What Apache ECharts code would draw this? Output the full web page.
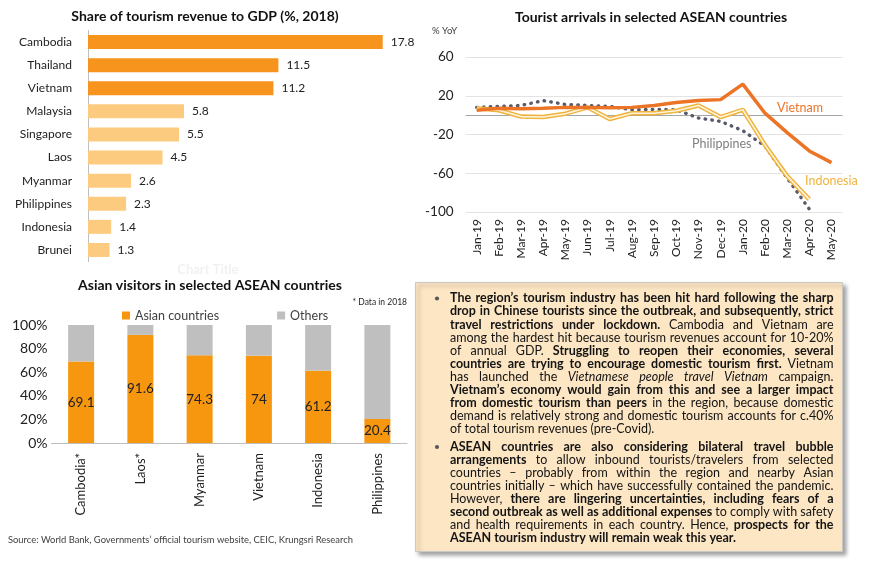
<!DOCTYPE html>
<html><head><meta charset="utf-8">
<script src="https://cdn.jsdelivr.net/npm/echarts/dist/echarts.min.js"></script>
<style>html,body{margin:0;padding:0;background:#fff}#c{width:870px;height:563px}</style>
</head><body><div id="c"></div>
<script>
// ---------- data ----------
const revCountries = ['Cambodia','Thailand','Vietnam','Malaysia','Singapore','Laos','Myanmar','Philippines','Indonesia','Brunei'];
const revValues = [17.8, 11.5, 11.2, 5.8, 5.5, 4.5, 2.6, 2.3, 1.4, 1.3];

const months = ['Jan-19','Feb-19','Mar-19','Apr-19','May-19','Jun-19','Jul-19','Aug-19','Sep-19','Oct-19','Nov-19','Dec-19','Jan-20','Feb-20','Mar-20','Apr-20','May-20'];
const vietnamYoY     = [5, 7, 6.5, 7, 8, 8, 7.5, 8, 10, 13, 15, 16, 32, 2, -18, -37, -49];
const indonesiaYoY   = [7, 5, -1.5, -2, 1.5, 8, -4, 2, 2, 4.5, 10, -2, 5.5, -31, -63, -87, null];
const philippinesYoY = [8, 9, 10, 15, 11, 10, 9, 5.5, 6, 5.5, -3, -6.5, -16, -32, -65, -97, null];
const yoyTicks = [-100, -60, -20, 20, 60];

const visitorCountries = ['Cambodia*','Laos*','Myanmar','Vietnam','Indonesia','Philippines'];
const asianShare = [69.1, 91.6, 74.3, 74, 61.2, 20.4];
const otherShare = [30.9, 8.4, 25.7, 26, 38.8, 79.6];

const para1Lines = [
 "**The region’s tourism industry has been hit hard following the sharp**",
 "**drop in Chinese tourists since the outbreak, and subsequently, strict**",
 "**travel restrictions under lockdown.** Cambodia and Vietnam are",
 "among the hardest hit because tourism revenues account for 10-20%",
 "of annual GDP. **Struggling to reopen their economies, several**",
 "**countries are trying to encourage domestic tourism first.** Vietnam",
 "has launched the _Vietnamese people travel Vietnam_ campaign.",
 "**Vietnam’s economy would gain from this and see a larger impact**",
 "**from domestic tourism than peers** in the region, because domestic",
 "demand is relatively strong and domestic tourism accounts for c.40%",
 "of total tourism revenues (pre-Covid)."
];
const para2Lines = [
 "**ASEAN countries are also considering bilateral travel bubble**",
 "**arrangements** to allow inbound tourists/travelers from selected",
 "countries – probably from within the region and nearby Asian",
 "countries initially – which have successfully contained the pandemic.",
 "However, **there are lingering uncertainties, including fears of a**",
 "**second outbreak as well as additional expenses** to comply with safety",
 "and health requirements in each country. Hence, **prospects for the**",
 "**ASEAN tourism industry will remain weak this year.**"
];

// ---------- text layout helpers ----------
const FONT = 'Lato';
const cv = document.createElement('canvas').getContext('2d');
function measure(t, b, i, s) {
  cv.font = (i ? 'italic ' : '') + (b ? 'bold ' : '') + s + 'px ' + FONT;
  return cv.measureText(t).width;
}
function parseLine(line) {
  const words = []; let cur = []; let b = false, it = false; let k = 0;
  const push = () => { if (cur.length) { words.push(cur); cur = []; } };
  while (k < line.length) {
    if (line.startsWith('**', k)) { b = !b; k += 2; continue; }
    const ch = line[k];
    if (ch === '_') { it = !it; k++; continue; }
    if (ch === ' ') { push(); k++; continue; }
    const last = cur[cur.length - 1];
    if (last && last.b === b && last.i === it) last.t += ch; else cur.push({t: ch, b: b, i: it});
    k++;
  }
  push();
  return words;
}
function wordWidth(w, s) { return w.reduce((a, p) => a + measure(p.t, p.b, p.i, s), 0); }

const TX0 = 450, TX1 = 833.5;
const parsed1 = para1Lines.map(parseLine), parsed2 = para2Lines.map(parseLine);
let maxRatio = 0;
[parsed1, parsed2].forEach(par => par.forEach((ws, idx) => {
  if (idx === par.length - 1) return;
  const nat = ws.reduce((a, w) => a + wordWidth(w, 12), 0) + (ws.length - 1) * measure(' ', false, false, 12) * 0.8;
  maxRatio = Math.max(maxRatio, nat / (TX1 - TX0));
}));
const TFS = Math.min(12.5, 12 / maxRatio);

function layoutPara(par, y0, lh) {
  const els = [];
  par.forEach((ws, idx) => {
    const y = y0 + idx * lh;
    const widths = ws.map(w => wordWidth(w, TFS));
    const total = widths.reduce((a, v) => a + v, 0);
    const justify = idx !== par.length - 1 && ws.length > 1;
    const gap = justify ? (TX1 - TX0 - total) / (ws.length - 1) : measure(' ', false, false, TFS);
    let x = TX0;
    ws.forEach((w, wi) => {
      let px = x;
      w.forEach(p => {
        els.push({type: 'text', x: px, y: y, z: 10, silent: true,
          style: {text: p.t, fontSize: TFS, fontFamily: FONT, fontWeight: p.b ? 'bold' : 'normal',
            fontStyle: p.i ? 'italic' : 'normal', fill: '#141414',
            align: 'left', verticalAlign: 'middle', textAlign: 'left', textVerticalAlign: 'middle'}});
        px += measure(p.t, p.b, p.i, TFS);
      });
      x += widths[wi] + gap;
    });
  });
  return els;
}

function txt(text, x, y, o) {
  o = o || {};
  return {type: 'text', x: x, y: y, z: 10, silent: true,
    style: Object.assign({text: text, fontFamily: FONT, fontSize: 12, fill: '#262626',
      align: o.align || 'left', verticalAlign: 'middle', textAlign: o.align || 'left', textVerticalAlign: 'middle'}, o)};
}

const graphics = [
  txt('Share of tourism revenue to GDP (%, 2018)', 205, 16, {align: 'center', fontSize: 14, fontWeight: 'bold', fill: '#111'}),
  txt('Tourist arrivals in selected ASEAN countries', 651, 17, {align: 'center', fontSize: 14, fontWeight: 'bold', fill: '#111'}),
  txt('Chart Title', 208, 270, {align: 'center', fontSize: 13, fontWeight: 'bold', fill: '#f1f1f1'}),
  txt('Asian visitors in selected ASEAN countries', 210, 285, {align: 'center', fontSize: 14, fontWeight: 'bold', fill: '#111'}),
  txt('% YoY', 432, 31, {fontSize: 9.5, fill: '#404040'}),
  txt('Vietnam', 777, 108, {fontSize: 12.5, fill: '#EC7426'}),
  txt('Philippines', 692, 144, {fontSize: 12.5, fill: '#7f7f7f'}),
  txt('Indonesia', 805, 181, {fontSize: 12.5, fill: '#EFB33F'}),
  txt('* Data in 2018', 407, 302, {align: 'right', fontSize: 8.5, fill: '#262626'}),
  txt('Source: World Bank, Governments’ official tourism website, CEIC, Krungsri Research', 8, 540, {fontSize: 9.4, fill: '#404040'}),
  {type: 'rect', shape: {x: 415.5, y: 282.5, width: 427, height: 269}, z: 5, silent: true,
    style: {fill: '#FDE6C4', stroke: '#C8C8C8', lineWidth: 1, shadowBlur: 4, shadowOffsetX: 3, shadowOffsetY: 3, shadowColor: 'rgba(0,0,0,0.35)'}},
  {type: 'circle', shape: {cx: 437, cy: 298.5, r: 2.1}, z: 10, silent: true, style: {fill: '#595959'}},
  {type: 'circle', shape: {cx: 437, cy: 447, r: 2.1}, z: 10, silent: true, style: {fill: '#595959'}}
].concat(layoutPara(parsed1, 298.3, 13.1), layoutPara(parsed2, 446.7, 13.1));

// ---------- chart ----------
const chart = echarts.init(document.getElementById('c'), null, {renderer: 'canvas'});
const labelColor = '#222222';
chart.setOption({
  animation: false,
  backgroundColor: '#ffffff',
  textStyle: {fontFamily: FONT},
  graphic: graphics,
  legend: {data: ['Asian countries', 'Others'], left: 117, top: 304, itemWidth: 8, itemHeight: 8, icon: 'rect',
    itemGap: 58, textStyle: {fontSize: 12.5, color: '#404040', fontFamily: FONT}, selectedMode: false},
  grid: [
    {left: 88, top: 30.5, width: 298, height: 231},
    {left: 465.6, top: 57, width: 377, height: 155},
    {left: 51.5, top: 325, width: 355.5, height: 118}
  ],
  xAxis: [
    {gridIndex: 0, type: 'value', min: 0, max: 18, show: false},
    {gridIndex: 1, type: 'category', data: months, boundaryGap: true,
      axisLine: {show: false}, axisTick: {show: false},
      axisLabel: {rotate: 90, fontSize: 12, color: labelColor, margin: 7, interval: 0}},
    {gridIndex: 2, type: 'category', data: visitorCountries,
      axisLine: {show: true, lineStyle: {color: '#BFBFBF'}}, axisTick: {show: false},
      axisLabel: {rotate: 90, fontSize: 13, color: labelColor, margin: 10, interval: 0}}
  ],
  yAxis: [
    {gridIndex: 0, type: 'category', data: revCountries, inverse: true,
      axisLine: {show: true, lineStyle: {color: '#BFBFBF'}}, axisTick: {show: false},
      axisLabel: {fontSize: 12, color: labelColor, margin: 16}},
    {gridIndex: 1, type: 'value', min: yoyTicks[0], max: yoyTicks[yoyTicks.length - 1], interval: 40,
      axisLine: {show: false}, axisTick: {show: false},
      splitLine: {lineStyle: {color: '#E3E3E3'}},
      axisLabel: {fontSize: 13.5, color: labelColor, margin: 12}},
    {gridIndex: 2, type: 'value', min: 0, max: 100, interval: 20,
      axisLine: {show: false}, axisTick: {show: false}, splitLine: {show: false},
      axisLabel: {fontSize: 14, color: labelColor, margin: 4, formatter: '{value}%'}}
  ],
  series: [
    {type: 'bar', xAxisIndex: 0, yAxisIndex: 0, data: revValues, barWidth: 14,
      itemStyle: {color: p => p.dataIndex < 3 ? '#F7941D' : '#FDCB7F'},
      label: {show: true, position: 'right', distance: 8, fontSize: 12, color: labelColor, fontFamily: FONT}},
    {name: 'Philippines', type: 'line', xAxisIndex: 1, yAxisIndex: 1, data: philippinesYoY, symbol: 'none',
      lineStyle: {color: '#575A6B', width: 3.4, type: [0.5, 6.3], cap: 'round'}},
    {name: 'Indonesia', type: 'line', xAxisIndex: 1, yAxisIndex: 1, data: indonesiaYoY, symbol: 'none',
      lineStyle: {color: '#EFB33F', width: 4.5}},
    {name: 'IndonesiaInner', type: 'line', xAxisIndex: 1, yAxisIndex: 1, data: indonesiaYoY, symbol: 'none',
      lineStyle: {color: '#FFF4DA', width: 1.6}},
    {name: 'Vietnam', type: 'line', xAxisIndex: 1, yAxisIndex: 1, data: vietnamYoY, symbol: 'none',
      lineStyle: {color: '#EC7426', width: 3.5},
      markLine: {silent: true, symbol: 'none', label: {show: false}, lineStyle: {color: '#A6A6A6', width: 1, type: 'solid'},
        data: [{yAxis: 0}], z: 1}},
    {name: 'Asian countries', type: 'bar', xAxisIndex: 2, yAxisIndex: 2, stack: 'v', data: asianShare, barWidth: 26,
      itemStyle: {color: '#F7960F'},
      label: {show: true, position: 'inside', fontSize: 13.5, color: labelColor, fontFamily: FONT}},
    {name: 'Others', type: 'bar', xAxisIndex: 2, yAxisIndex: 2, stack: 'v', data: otherShare, barWidth: 26,
      itemStyle: {color: '#BFBFBF'}}
  ]
});
</script>
</body></html>
